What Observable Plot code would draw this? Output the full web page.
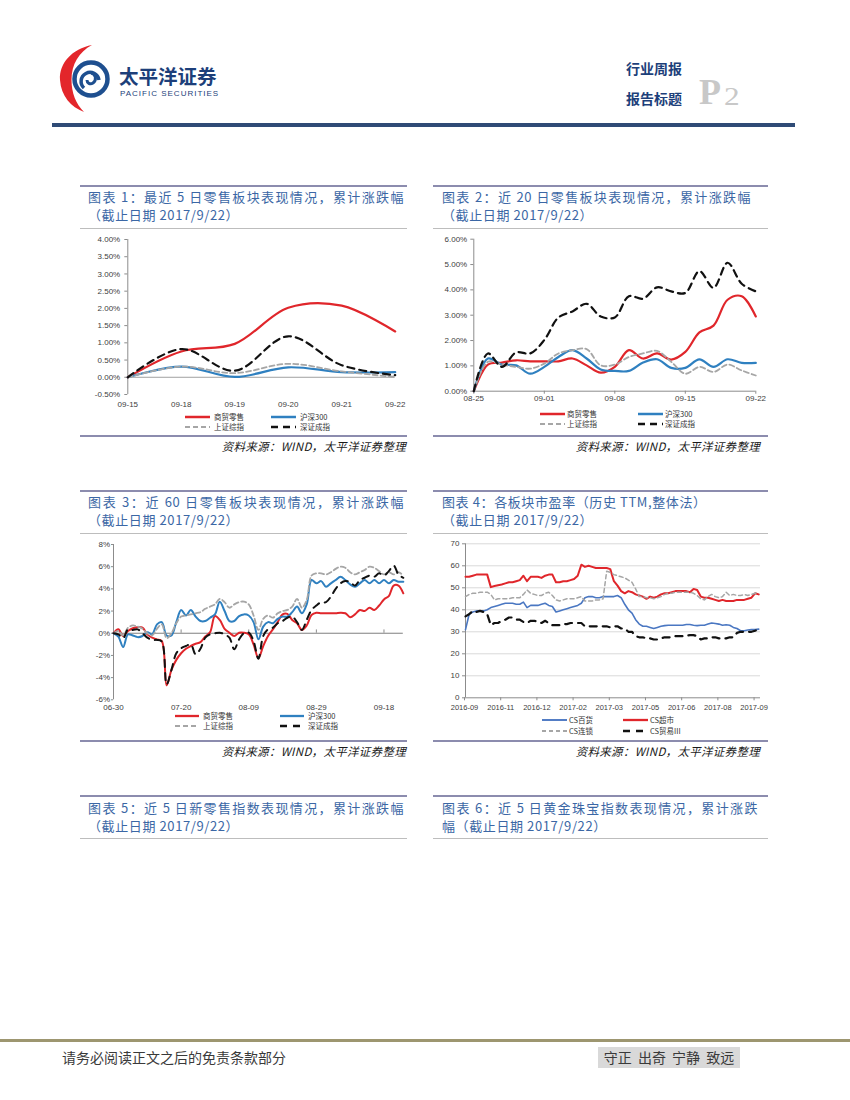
<!DOCTYPE html>
<html><head><meta charset="utf-8">
<script src="https://cdn.jsdelivr.net/npm/d3@7"></script>
<script src="https://cdn.jsdelivr.net/npm/@observablehq/plot@0.6"></script>
<style>
html,body{margin:0;padding:0;background:#fff;}
#page{position:relative;width:850px;height:1100px;overflow:hidden;background:#fff;font-family:"Noto Sans CJK SC","Noto Sans",sans-serif;}
</style></head>
<body><div id="page"></div>
<script>
// ---------------- DATA ----------------
const seriesNames = ["商贸零售", "沪深300", "上证综指", "深证成指"];
const peNames = ["CS百货", "CS超市", "CS连锁", "CS贸易III"];

// Chart 1: last 5 days (cumulative %)
const c1Dates = ["09-15", "09-18", "09-19", "09-20", "09-21", "09-22"];
const c1Retail = [0, 0.75, 0.97, 2.02, 2.08, 1.33];
const c1HS300 = [0, 0.31, 0.01, 0.29, 0.15, 0.15];
const c1SH = [0, 0.31, 0.12, 0.39, 0.17, 0.01];
const c1SZ = [0, 0.82, 0.19, 1.19, 0.35, 0.06];
const c1YTicks = [-0.5, 0, 0.5, 1, 1.5, 2, 2.5, 3, 3.5, 4];

// Chart 2: last 20 days
const c2TickIdx = [0, 5, 10, 15, 20];
const c2TickLabels = ["08-25", "09-01", "09-08", "09-15", "09-22"];
const c2Retail = [0, 1.05, 1.13, 1.22, 1.18, 1.18, 1.18, 1.29, 1.02, 0.73, 0.96, 1.62, 1.29, 1.49, 1.25, 1.55, 2.32, 2.59, 3.61, 3.75, 2.95];
const c2HS300 = [0, 1.29, 1.05, 1.02, 0.69, 0.96, 1.35, 1.62, 1.29, 0.86, 0.8, 0.8, 1.13, 1.26, 0.92, 0.92, 1.26, 0.96, 1.26, 1.12, 1.12];
const c2SH = [0, 1.16, 1.05, 0.96, 0.89, 1.09, 1.49, 1.62, 1.66, 1.02, 1.05, 1.35, 1.49, 1.59, 1.16, 0.69, 0.96, 0.76, 1.05, 0.82, 0.62];
const c2SZ = [0, 1.49, 0.96, 1.53, 1.49, 2.02, 2.91, 3.15, 3.45, 2.95, 2.91, 3.75, 3.65, 4.10, 3.94, 3.88, 4.74, 4.08, 5.07, 4.24, 3.94];
const c2YTicks = [0, 1, 2, 3, 4, 5, 6];

// Chart 3: last 60 days
const c3TickIdx = [0, 14, 28, 42, 56];
const c3TickLabels = ["06-30", "07-20", "08-09", "08-29", "09-18"];
const c3Retail = [0, 0.35, -0.25, 0.2, 0.45, 0.55, 0.5, -0.1, -0.4, -0.55,
  -0.7, -4.7, -3.3, -2.4, -1.8, -1.4, -1.15, -0.95, -0.8, -0.3,
  0.1, 1.55, 1.2, 0.4, 0.05, -0.25, 0.05, 0.05, -0.1, -1.0,
  -2.25, -1.15, -0.25, 0.35, 1.0, 1.7, 1.75, 1.2, 0.9, 0.3,
  0.7, 1.65, 1.85, 1.8, 1.8, 1.8, 1.8, 1.85, 1.8, 1.45,
  1.7, 2.1, 2.0, 2.3, 2.1, 2.5, 3.05, 3.35, 4.3, 4.3,
  3.6];
const c3HS300 = [0, -0.3, -1.25, -0.1, -0.2, -0.35, -0.25, 0.1, -0.1, 0.8,
  1.0, -0.2, -0.2, 1.0, 2.1, 1.6, 2.1, 1.5, 1.1, 1.1,
  1.4, 1.7, 2.85, 2.0, 1.1, 1.1, 1.55, 1.7, 1.6, 1.0,
  -0.55, 0.6, 1.0, 0.9, 1.3, 1.5, 1.5, 1.9, 2.4, 1.8,
  2.6, 4.8, 4.5, 4.7, 4.2, 4.5, 4.8, 5.1, 4.8, 4.4,
  4.2, 4.5, 4.8, 4.5, 4.8, 4.5, 4.8, 4.5, 4.8, 4.65,
  4.65];
const c3SH = [0, 0.2, -0.2, 0.5, 0.7, 0.6, 0.4, 0.0, -0.2, 0.4,
  0.8, -0.45, 0.0, 0.9, 1.5, 1.6, 1.7, 1.8, 1.9, 2.2,
  2.4, 2.6, 3.1, 2.8, 2.3, 2.6, 2.8, 2.85, 2.6, 1.6,
  0.3, 1.3, 1.6, 1.4, 1.8, 2.0, 2.1, 2.4, 3.1, 2.3,
  3.0, 5.2, 5.4, 5.4, 5.3, 5.5, 5.8, 6.0, 5.9, 5.5,
  5.3, 5.5, 5.7, 6.0, 5.9, 5.6, 5.3, 5.5, 5.3, 5.5,
  5.2];
const c3SZ = [0, -0.1, -0.45, 0.35, 0.3, 0.35, 0.0, -0.4, -0.6, -0.6,
  -0.75, -4.6, -3.3, -1.8, -1.35, -1.15, -1.0, -1.9, -1.4, -0.4,
  -0.1, 0.0, 0.05, -0.1, -0.4, -1.45, -0.55, 0.0, 0.05, -0.7,
  -2.3, -0.25, 0.35, 0.5, 0.9, 1.1, 1.4, 1.5, 1.0, 0.3,
  1.2, 2.1, 2.5, 2.8, 2.8, 3.3, 4.0, 4.5, 4.7, 4.6,
  4.3, 4.8, 5.0, 5.2, 5.1, 5.4, 5.2, 5.6, 6.1, 5.3,
  5.0];
const c3YTicks = [-6, -4, -2, 0, 2, 4, 6, 8];

// Chart 4: PE (TTM) sampled every ~3 trading days
const c4TickIdx = [0, 10, 20, 30, 40, 50, 60, 70, 80];
const c4TickLabels = ["2016-09", "2016-11", "2016-12", "2017-02", "2017-03", "2017-05", "2017-06", "2017-08", "2017-09"];
const c4Dept = [31, 38, 39, 39.5, 39.5, 39.5, 40, 41, 41.5, 42,
  42.5, 43, 43, 43, 42.5, 42.5, 43.5, 41, 42, 42,
  42, 42.5, 43, 42, 41.5, 39, 39.5, 40, 40.5, 41,
  41.5, 42, 43, 45.5, 46, 46, 45.5, 45.5, 46, 46,
  46, 46, 46.5, 45.5, 42.5, 40, 38.5, 35.5, 33.5, 32.5,
  32.5, 32, 31.5, 32, 32.5, 32.8, 33, 33, 33, 33,
  33, 33.3, 33.3, 33, 32.8, 33, 33, 33.5, 34, 33.8,
  33.5, 33, 33.2, 33, 32, 31.5, 30.5, 30.5, 30.8, 31,
  31, 31.2];
const c4Super = [55, 55, 55.5, 56, 56, 56, 56, 50.3, 50.8, 51.2,
  51.5, 52, 52.5, 52.5, 53, 53.5, 55.5, 53, 55, 55,
  55, 54.5, 55.5, 56, 56, 52.5, 52.5, 53, 53, 53.5,
  54, 55.5, 60.5, 59.5, 60, 59.5, 59, 59, 59, 59,
  58.5, 53, 51, 48.5, 47.5, 48.5, 48, 47, 46.5, 46,
  45, 46, 45.5, 46, 47, 47.5, 47.5, 48, 48.5, 48.5,
  48.5, 48.5, 48, 49.5, 49, 46, 45.5, 45.5, 45, 44.5,
  44, 44.5, 44, 44, 44, 44.5, 44.5, 44.5, 45, 45.5,
  47.5, 47];
const c4Chain = [46, 47, 47.5, 47.5, 48, 48, 48, 47, 44.5, 45,
  45, 45, 45, 45.5, 45.5, 45.5, 47, 49, 47.5, 47,
  46.5, 46.5, 47.5, 48, 46.5, 44.5, 44, 44.5, 45, 45,
  45, 45.5, 46, 44, 44, 44, 44.5, 44.5, 45, 57.5,
  57, 56, 55.5, 55, 54.5, 53.5, 52.5, 49.5, 46, 46,
  45.5, 45.5, 45, 45.5, 46, 47, 47.5, 47.5, 48, 48,
  48, 48, 48, 47.5, 46.5, 45, 44.5, 46, 47, 46,
  45.5, 46, 48, 46.5, 47, 46.5, 46.5, 47, 46.5, 47,
  47.5, 48];
const c4Trade = [37, 38, 39.5, 39, 39.5, 39, 38, 33, 34, 34,
  35, 35.5, 36.5, 36.5, 35.5, 35.5, 34.5, 34, 35, 35,
  34.5, 34, 35, 34, 33, 33, 33, 33.5, 33.5, 34,
  34, 34, 34, 32.5, 32.5, 32.5, 32.5, 32.5, 32.5, 32.5,
  32, 32.5, 32.5, 31.5, 31.5, 30, 30, 28, 27.5, 27.5,
  27, 27, 26.5, 26.5, 27, 27.5, 27.5, 27.5, 28, 28,
  28, 28.3, 28.5, 28.5, 28, 26.5, 27, 27, 27.5, 27.5,
  27, 27, 27, 27.5, 27.5, 29.5, 30, 30, 30, 30,
  30.5, 31];
const c4YTicks = [0, 10, 20, 30, 40, 50, 60, 70];

// ---------------- STYLES ----------------
const RED = "#e0262b", BLUE = "#2f80c0", GRAY = "#a6a6a6", BLACK = "#111111";
const BLUE4 = "#4a77c2";
const AXIS = "#8c8c8c", LABEL = "#404040";
const NUMFONT = "'Liberation Sans', Arial, sans-serif";
const page = document.getElementById("page");

function el(tag, css, text) {
  const e = document.createElement(tag);
  e.style.cssText = "position:absolute;" + css;
  if (text != null) e.textContent = text;
  page.appendChild(e);
  return e;
}
function hline(x1, x2, y, h, color) {
  el("div", `left:${x1}px;top:${y - h / 2}px;width:${x2 - x1}px;height:${h}px;background:${color};`);
}

// ---------------- HEADER ----------------
const logo = document.createElementNS("http://www.w3.org/2000/svg", "svg");
logo.setAttribute("width", "850"); logo.setAttribute("height", "130");
logo.style.cssText = "position:absolute;left:0;top:0;";
logo.innerHTML = `
  <path d="M92 45 C72 49 59 63 60 80 C61 96 71 107 84 112 C76 104 71.5 93 71.5 80 C71.5 64 79 52 92 45 Z" fill="#e3262b"/>
  <circle cx="91" cy="79" r="16.5" fill="#fff" stroke="#1e4f8f" stroke-width="4.5"/>
  <path d="M84 88 A9 9 0 1 1 99 80" fill="none" stroke="#1e4f8f" stroke-width="3.5"/>
  <path d="M91 73 C96 74 97 80 93 83 C90 85 87 83 87 80" fill="none" stroke="#1e4f8f" stroke-width="3"/>
`;
page.appendChild(logo);
el("div", "left:119px;top:65px;height:22px;font-size:19.5px;font-weight:700;color:#1d3f7a;line-height:22px;white-space:nowrap;", "太平洋证券");
el("div", `left:120px;top:88.5px;height:9px;font-family:${NUMFONT};font-size:8px;color:#1d3f7a;letter-spacing:1px;line-height:9px;white-space:nowrap;`, "PACIFIC SECURITIES");
el("div", "left:626px;top:59px;font-size:14px;font-weight:700;color:#1d3f7a;line-height:18px;white-space:nowrap;", "行业周报");
el("div", "left:626px;top:89px;font-size:14px;font-weight:700;color:#1d3f7a;line-height:18px;white-space:nowrap;", "报告标题");
el("div", "left:699px;top:72px;font-family:'Liberation Serif','DejaVu Serif',serif;font-size:36px;font-weight:700;color:#c8c8c8;line-height:40px;", "P");
el("div", "left:724px;top:83px;font-family:'Liberation Serif','DejaVu Serif',serif;font-size:25px;color:#c8c8c8;line-height:28px;transform:scaleX(1.25);transform-origin:left;", "2");
hline(52, 795, 125, 3.2, "#2f4b76");

// ---------------- PANELS ----------------
const TITLE_COLOR = "#3b67a5";
function panel(p) {
  hline(p.x1, p.x2, p.top, 2, "#8c8cae");
  p.lines.forEach((ln, k) => {
    const top = p.top + 2.5 + k * 18.3;
    const base = `left:${p.tx}px;top:${top}px;height:18px;font-size:13px;line-height:18px;color:${TITLE_COLOR};letter-spacing:0.6px;`;
    if (ln.w) el("div", base + `width:${ln.w}px;text-align:justify;text-align-last:justify;overflow:hidden;`, ln.t);
    else el("div", base + "white-space:nowrap;", ln.t);
  });
  hline(p.x1, p.x2, p.top + 42.5, 1, "#bdbdbd");
  if (p.bottom) {
    hline(p.x1, p.x2, p.bottom, 2, "#8c8cae");
    el("div", `left:${p.x1}px;width:${p.srcR - p.x1}px;top:${p.bottom + 2}px;text-align:right;font-size:11.5px;line-height:16px;font-style:italic;color:#1a1a1a;letter-spacing:0.3px;white-space:nowrap;`, "资料来源：WIND，太平洋证券整理");
  }
}
panel({x1: 80, x2: 407, top: 185.5, tx: 88, srcR: 406, bottom: 436,
  lines: [{t: "图表 1：最近 5 日零售板块表现情况，累计涨跌幅", w: 316}, {t: "（截止日期 2017/9/22）"}]});
panel({x1: 433, x2: 768, top: 185.5, tx: 442, srcR: 760, bottom: 436,
  lines: [{t: "图表 2：近 20 日零售板块表现情况，累计涨跌幅", w: 309}, {t: "（截止日期 2017/9/22）"}]});
panel({x1: 80, x2: 407, top: 490.5, tx: 88, srcR: 406, bottom: 741,
  lines: [{t: "图表 3：近 60 日零售板块表现情况，累计涨跌幅", w: 316}, {t: "（截止日期 2017/9/22）"}]});
panel({x1: 433, x2: 768, top: 490.5, tx: 442, srcR: 760, bottom: 741,
  lines: [{t: "图表 4：各板块市盈率（历史 TTM,整体法）"}, {t: "（截止日期 2017/9/22）"}]});
panel({x1: 80, x2: 407, top: 796, tx: 88, srcR: 406, bottom: null,
  lines: [{t: "图表 5：近 5 日新零售指数表现情况，累计涨跌幅", w: 316}, {t: "（截止日期 2017/9/22）"}]});
panel({x1: 433, x2: 768, top: 796, tx: 442, srcR: 760, bottom: null,
  lines: [{t: "图表 6：近 5 日黄金珠宝指数表现情况，累计涨跌", w: 316}, {t: "幅（截止日期 2017/9/22）"}]});

// ---------------- CHARTS ----------------
function plotChart(c) {
  const marks = [];
  if (c.grid) marks.push(Plot.ruleY(c.grid, {stroke: "#d9d9d9", strokeWidth: 1}));
  if (c.zeroLine) marks.push(Plot.ruleY([0], {stroke: c.zeroColor || AXIS, strokeWidth: 1}));
  if (c.zeroTicks) marks.push(Plot.ruleX(c.zeroTicks, {x: d => d, y1: 0, y2: c.zeroTickLen, stroke: AXIS}));
  marks.push(Plot.ruleX([c.xDomain[0]], {stroke: AXIS, strokeWidth: 1}));
  marks.push(Plot.axisY(c.yTicks, {anchor: "left", tickSize: c.yTickSize, tickPadding: c.yTickPad,
    tickFormat: c.yFormat, stroke: AXIS, fill: LABEL, fontSize: c.fontSize, label: null}));
  marks.push(Plot.axisX(c.xTicks, {anchor: "bottom", tickSize: c.xTickSize, tickPadding: c.xTickPad,
    tickFormat: c.xFormat, stroke: AXIS, fill: LABEL, fontSize: c.xFontSize || c.fontSize,
    fontFamily: c.xFontFamily || NUMFONT, dx: c.xDx || 0, label: null}));
  for (const s of c.series) {
    marks.push(Plot.line(s.values, {x: (d, i) => i, y: d => d, stroke: s.color, strokeWidth: s.width,
      strokeDasharray: s.dash || null, curve: c.curve}));
  }
  const svg = Plot.plot({
    width: c.width, height: c.height,
    marginTop: c.m[0], marginRight: c.m[1], marginBottom: c.m[2], marginLeft: c.m[3],
    x: {type: "linear", domain: c.xDomain},
    y: {type: "linear", domain: c.yDomain},
    style: {fontFamily: NUMFONT, fontSize: c.fontSize + "px", color: LABEL, background: "transparent", overflow: "visible"},
    marks
  });
  svg.style.position = "absolute";
  svg.style.left = c.left + "px";
  svg.style.top = c.top + "px";
  svg.style.maxWidth = "none";
  page.appendChild(svg);
}

function legend(items, cols, rows, sampleW) {
  items.forEach((s, k) => {
    const col = cols[k % 2], y = rows[Math.floor(k / 2)];
    const svg = document.createElementNS("http://www.w3.org/2000/svg", "svg");
    svg.setAttribute("width", sampleW); svg.setAttribute("height", 8);
    svg.style.cssText = `position:absolute;left:${col.sx}px;top:${y - 4}px;overflow:visible;`;
    svg.innerHTML = `<line x1="0" x2="${sampleW}" y1="4" y2="4" stroke="${s.color}" stroke-width="${s.lw || s.width + 0.3}" ${s.dash ? `stroke-dasharray="${s.dash}"` : ""}/>`;
    page.appendChild(svg);
    el("div", `left:${col.tx}px;top:${y - 6}px;font-size:7.5px;line-height:12px;color:#333;white-space:nowrap;`, s.name);
  });
}

const pct2 = d => d.toFixed(2) + "%";

// Chart 1
const s1 = [
  {name: seriesNames[0], values: c1Retail, color: RED, width: 2.2},
  {name: seriesNames[1], values: c1HS300, color: BLUE, width: 2.2},
  {name: seriesNames[2], values: c1SH, color: GRAY, width: 1.8, dash: "5,3"},
  {name: seriesNames[3], values: c1SZ, color: BLACK, width: 2.2, dash: "7,5"}
];
plotChart({left: 80, top: 232, width: 327, height: 180, m: [7, 12.3, 18, 47.3],
  xDomain: [0, c1Dates.length - 1], yDomain: [-0.5, 4], yTicks: c1YTicks, yFormat: pct2,
  xTicks: c1Dates.map((d, i) => i), xFormat: i => c1Dates[i], fontSize: 8,
  yTickSize: 3, yTickPad: 4.6, xTickSize: 0, xTickPad: 7.2,
  zeroLine: true, zeroColor: "#a0a0a0", curve: "catmull-rom", series: s1});
legend(s1, [{sx: 185, tx: 214}, {sx: 271, tx: 300}], [416.5, 426.5], 25);

// Chart 2
const s2 = [
  {name: seriesNames[0], values: c2Retail, color: RED, width: 2.2},
  {name: seriesNames[1], values: c2HS300, color: BLUE, width: 2.2},
  {name: seriesNames[2], values: c2SH, color: GRAY, width: 1.8, dash: "5,3"},
  {name: seriesNames[3], values: c2SZ, color: BLACK, width: 2.2, dash: "7,5"}
];
plotChart({left: 433, top: 232, width: 335, height: 175, m: [6.7, 12.7, 16.3, 40.3],
  xDomain: [0, c2Retail.length - 1], yDomain: [0, 6], yTicks: c2YTicks, yFormat: pct2,
  xTicks: c2TickIdx, xFormat: i => c2TickLabels[c2TickIdx.indexOf(i)], fontSize: 8,
  yTickSize: 3, yTickPad: 3.6, xTickSize: 3, xTickPad: 1.5,
  zeroLine: true, curve: "catmull-rom", series: s2});
legend(s2, [{sx: 540, tx: 567}, {sx: 638, tx: 665}], [414, 424], 25);

// Chart 3
const s3 = [
  {name: seriesNames[0], values: c3Retail, color: RED, width: 2},
  {name: seriesNames[1], values: c3HS300, color: BLUE, width: 2},
  {name: seriesNames[2], values: c3SH, color: GRAY, width: 1.8, dash: "5,3"},
  {name: seriesNames[3], values: c3SZ, color: BLACK, width: 2, dash: "7,6"}
];
plotChart({left: 80, top: 537, width: 327, height: 178, m: [7, 4.2, 15.7, 33],
  xDomain: [0, c3Retail.length - 1], yDomain: [-6, 8], yTicks: c3YTicks, yFormat: d => d + "%",
  xTicks: c3TickIdx, xFormat: i => c3TickLabels[c3TickIdx.indexOf(i)], fontSize: 8,
  yTickSize: 2, yTickPad: 1.5, xTickSize: 0, xTickPad: 4.6,
  zeroLine: true, zeroColor: "#7f7f7f", zeroTicks: c3TickIdx, zeroTickLen: 0.3,
  curve: "catmull-rom", series: s3});
legend(s3, [{sx: 175, tx: 203}, {sx: 280, tx: 308}], [716, 726], 24);

// Chart 4
const s4 = [
  {name: peNames[0], values: c4Dept, color: BLUE4, width: 1.6},
  {name: peNames[1], values: c4Super, color: RED, width: 2},
  {name: peNames[2], values: c4Chain, color: GRAY, width: 1.5, dash: "4,3"},
  {name: peNames[3], values: c4Trade, color: BLACK, width: 2.2, dash: "7,6"}
];
plotChart({left: 433, top: 537, width: 335, height: 178, m: [6.3, 8, 17.7, 32],
  xDomain: [0, 81.5], yDomain: [0, 70], yTicks: c4YTicks, yFormat: d => String(d),
  xTicks: c4TickIdx, xFormat: i => c4TickLabels[c4TickIdx.indexOf(i)], fontSize: 8,
  xFontSize: 7.5, xFontFamily: "'Liberation Sans Narrow','Liberation Sans',Arial,sans-serif", xDx: -1,
  yTickSize: 3, yTickPad: 3, xTickSize: 3, xTickPad: 3.8,
  grid: c4YTicks.filter(d => d > 0), zeroLine: true, curve: "linear", series: s4});
legend(s4, [{sx: 542, tx: 569}, {sx: 623, tx: 650}], [720, 730.5], 25);

// ---------------- FOOTER ----------------
hline(0, 850, 1040, 3, "#9d9670");
el("div", "left:62px;top:1047px;font-size:14px;line-height:20px;color:#3a3a3a;white-space:nowrap;", "请务必阅读正文之后的免责条款部分");
el("div", "left:598px;top:1047px;width:142px;height:21px;background:#d9d9d9;font-size:14px;line-height:21px;color:#3a3a3a;text-align:center;word-spacing:3px;white-space:nowrap;", "守正 出奇 宁静 致远");
</script>
</body></html>
